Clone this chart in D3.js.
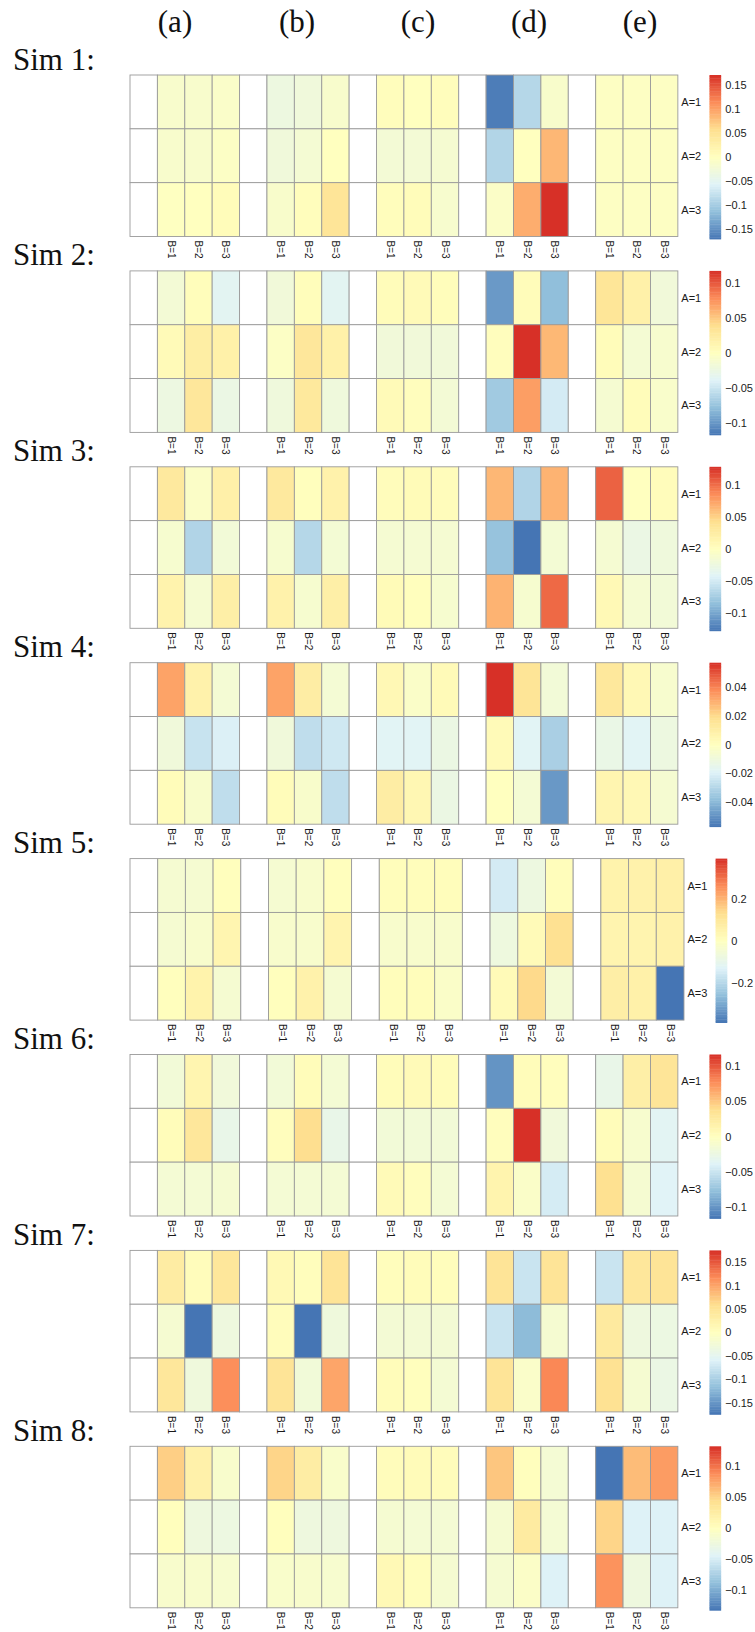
<!DOCTYPE html>
<html>
<head>
<meta charset="utf-8">
<script src="https://cdn.jsdelivr.net/npm/d3@7"></script>
<style>
  body { margin: 0; background: #fff; }
  svg { display: block; }
  .serif { font-family: "Liberation Serif", "DejaVu Serif", serif; }
  .sans { font-family: "Liberation Sans", Arial, Helvetica, sans-serif; }
</style>
</head>
<body>
<svg id="chart" width="755" height="1632"></svg>
<script>
// ---- data -------------------------------------------------------------
const simNames = ["Sim 1:", "Sim 2:", "Sim 3:", "Sim 4:", "Sim 5:", "Sim 6:", "Sim 7:", "Sim 8:"];
const groupLabels = ["(a)", "(b)", "(c)", "(d)", "(e)"];
const rowLabels = ["A=1", "A=2", "A=3"];
const colLabels = ["B=1", "B=2", "B=3"];

// each simulation: 5 groups x 3 rows (A) x 3 columns (B)
const sim1 = [
  [[-0.013, -0.013, -0.010], [-0.013, -0.013, -0.006], [-0.002, 0.000, 0.006]],
  [[-0.033, -0.028, -0.013], [-0.027, -0.020, 0.000], [-0.012, 0.004, 0.047]],
  [[0.004, 0.000, 0.004], [-0.022, -0.022, -0.018], [0.004, 0.006, -0.015]],
  [[-0.165, -0.088, -0.012], [-0.090, 0.000, 0.085], [-0.008, 0.092, 0.171]],
  [[-0.004, -0.004, -0.004], [-0.004, -0.004, -0.004], [-0.004, -0.004, -0.004]]
];
const sim2 = [
  [[-0.015, 0.003, -0.035], [0.006, 0.022, 0.018], [-0.023, 0.030, -0.025]],
  [[-0.018, 0.003, -0.035], [-0.004, 0.030, 0.018], [-0.020, 0.028, -0.020]],
  [[0.004, 0.006, 0.003], [-0.018, -0.018, -0.018], [0.006, 0.002, -0.015]],
  [[-0.098, 0.004, -0.078], [0.002, 0.117, 0.058], [-0.070, 0.070, -0.045]],
  [[0.032, 0.018, -0.018], [0.004, -0.014, -0.010], [-0.012, 0.004, -0.008]]
];
const sim3 = [
  [[0.030, -0.006, 0.020], [-0.012, -0.068, -0.018], [0.016, -0.014, 0.022]],
  [[0.030, 0.002, 0.018], [-0.012, -0.066, -0.016], [0.018, -0.012, 0.022]],
  [[0.004, 0.006, 0.004], [-0.014, -0.014, -0.014], [0.006, 0.002, -0.012]],
  [[0.064, -0.068, 0.066], [-0.082, -0.128, -0.016], [0.066, -0.012, 0.102]],
  [[0.105, 0.000, 0.004], [-0.014, -0.028, -0.022], [0.008, -0.014, -0.018]]
];
const sim4 = [
  [[0.033, 0.008, -0.007], [-0.009, -0.025, -0.020], [0.002, -0.004, -0.027]],
  [[0.033, 0.011, -0.007], [-0.009, -0.027, -0.023], [0.002, -0.004, -0.027]],
  [[0.004, -0.003, 0.003], [-0.018, -0.018, -0.012], [0.011, 0.005, -0.012]],
  [[0.057, 0.016, -0.008], [0.003, -0.018, -0.032], [0.000, -0.007, -0.048]],
  [[0.014, 0.004, -0.005], [-0.013, -0.018, -0.011], [0.006, 0.004, -0.006]]
];
const sim5 = [
  [[-0.040, -0.040, 0.006], [-0.040, -0.030, 0.042], [0.006, 0.052, -0.040]],
  [[-0.040, -0.030, 0.006], [-0.030, -0.030, 0.045], [0.006, 0.055, -0.040]],
  [[0.010, 0.010, 0.010], [-0.030, -0.030, -0.030], [0.010, 0.010, -0.020]],
  [[-0.150, -0.075, 0.010], [-0.070, 0.020, 0.125], [0.020, 0.140, -0.050]],
  [[0.052, 0.055, 0.065], [0.045, 0.045, 0.055], [0.070, 0.060, -0.390]]
];
const sim6 = [
  [[-0.016, 0.012, -0.018], [0.004, 0.030, -0.028], [-0.014, -0.014, -0.012]],
  [[-0.016, 0.004, -0.014], [0.002, 0.039, -0.028], [-0.014, -0.014, -0.014]],
  [[0.004, 0.006, 0.004], [-0.016, -0.016, -0.016], [0.006, 0.002, -0.014]],
  [[-0.100, 0.004, 0.002], [0.002, 0.116, -0.018], [0.014, -0.006, -0.044]],
  [[-0.028, 0.020, 0.032], [0.004, -0.010, -0.035], [0.038, -0.012, -0.038]]
];
const sim7 = [
  [[0.035, 0.005, 0.045], [-0.018, -0.175, -0.032], [0.045, -0.030, 0.115]],
  [[0.012, 0.004, 0.050], [0.005, -0.175, -0.030], [0.050, -0.026, 0.100]],
  [[0.004, 0.006, 0.004], [-0.022, -0.022, -0.022], [0.006, 0.002, -0.020]],
  [[0.050, -0.075, 0.050], [-0.075, -0.119, -0.018], [0.050, -0.010, 0.120]],
  [[-0.075, 0.045, 0.050], [0.040, -0.032, -0.036], [0.055, -0.018, -0.038]]
];
const sim8 = [
  [[0.053, 0.020, -0.010], [0.002, -0.024, -0.026], [-0.010, -0.010, -0.012]],
  [[0.050, 0.025, -0.009], [0.002, -0.024, -0.024], [-0.009, -0.010, -0.012]],
  [[0.004, 0.006, 0.004], [-0.014, -0.016, -0.016], [0.008, 0.003, -0.014]],
  [[0.058, 0.002, -0.016], [-0.014, 0.028, -0.016], [-0.014, -0.006, -0.045]],
  [[-0.132, 0.063, 0.080], [0.050, -0.045, -0.045], [0.085, -0.024, -0.045]]
];
const simValues = [sim1, sim2, sim3, sim4, sim5, sim6, sim7, sim8];

// colour-key tick values for each simulation
const legendTicks = [
  [-0.15, -0.1, -0.05, 0, 0.05, 0.1, 0.15],
  [-0.1, -0.05, 0, 0.05, 0.1],
  [-0.1, -0.05, 0, 0.05, 0.1],
  [-0.04, -0.02, 0, 0.02, 0.04],
  [-0.2, 0, 0.2],
  [-0.1, -0.05, 0, 0.05, 0.1],
  [-0.15, -0.1, -0.05, 0, 0.05, 0.1, 0.15],
  [-0.1, -0.05, 0, 0.05, 0.1]
];

// reversed RdYlBu (7 classes)
const palette = ["#4575B4", "#91BFDB", "#E0F3F8", "#FFFFBF", "#FEE090", "#FC8D59", "#D73027"];

// ---- layout -----------------------------------------------------------
const heatLeft = 130;
const firstTop = 75;
const panelStep = 195.9;
const heatH = 161.5;
const keyGap = 31.6;     // heatmap right edge -> colour key
const keyW = 11.7;
const keyH = 164;
const rightEdge = 753;
const headerX = [175, 297, 418, 529, 640];
const headerY = 32;

const svg = d3.select("#chart");
const fmt = d => (d < 0 ? "\u2212" : "") + String(Math.abs(d));

// column keys: a spacer column then B=1..3 for each group
const colKeys = [];
groupLabels.forEach((g, gi) => {
  colKeys.push(`g${gi}-gap`);
  colLabels.forEach(b => colKeys.push(`g${gi}-${b}`));
});

// group headers
svg.append("g").attr("class", "serif").selectAll("text")
  .data(groupLabels)
  .join("text")
  .attr("x", (d, i) => headerX[i])
  .attr("y", headerY)
  .attr("text-anchor", "middle")
  .attr("font-size", 31)
  .attr("fill", "#111")
  .text(d => d);

simValues.forEach((sim, si) => {
  const top = firstTop + si * panelStep;
  const g = svg.append("g");

  // simulation name
  g.append("text")
    .attr("class", "serif")
    .attr("x", 13)
    .attr("y", top - 5.5)
    .attr("font-size", 31)
    .attr("fill", "#111")
    .text(simNames[si]);

  // colour key labels first, so the heatmap width can follow their width
  const ticks = legendTicks[si];
  const probe = g.append("g").attr("class", "sans").attr("font-size", 11);
  let maxW = 0;
  probe.selectAll("text").data(ticks).join("text").text(fmt)
    .each(function () { maxW = Math.max(maxW, this.getComputedTextLength()); });
  probe.remove();

  const heatRight = rightEdge - maxW - 4 - keyW - keyGap;
  const x = d3.scaleBand().domain(colKeys).range([heatLeft, heatRight]);
  const y = d3.scaleBand().domain(rowLabels).range([top, top + heatH]);

  const flat = sim.flat(2);
  const M = d3.max(flat, v => Math.abs(v));
  const color = d3.scaleLinear()
    .domain(d3.range(7).map(i => -M + (2 * M) * i / 6))
    .range(palette)
    .interpolate(d3.interpolateRgb);

  // cells
  const cells = [];
  groupLabels.forEach((gl, gi) => {
    rowLabels.forEach((a, ri) => {
      cells.push({ col: `g${gi}-gap`, row: a, v: null });
      colLabels.forEach((b, bi) => {
        cells.push({ col: `g${gi}-${b}`, row: a, v: sim[gi][ri][bi] });
      });
    });
  });
  g.append("g").selectAll("rect")
    .data(cells)
    .join("rect")
    .attr("x", d => x(d.col))
    .attr("y", d => y(d.row))
    .attr("width", x.bandwidth())
    .attr("height", y.bandwidth())
    .attr("fill", d => d.v === null ? "#ffffff" : color(d.v))
    .attr("stroke", "#9a9a9a")
    .attr("stroke-width", 0.9);

  // column labels (vertical, reading downward)
  const colTicks = colKeys.filter(k => !k.endsWith("gap"));
  g.append("g").attr("class", "sans").selectAll("text")
    .data(colTicks)
    .join("text")
    .attr("transform", d => `translate(${x(d) + x.bandwidth() / 2},${top + heatH + 4}) rotate(90)`)
    .attr("dominant-baseline", "central")
    .attr("font-size", 10)
    .attr("fill", "#1a1a1a")
    .text(d => d.split("-")[1]);

  // row labels
  g.append("g").attr("class", "sans").selectAll("text")
    .data(rowLabels)
    .join("text")
    .attr("x", heatRight + 3.5)
    .attr("y", d => y(d) + y.bandwidth() / 2)
    .attr("dominant-baseline", "central")
    .attr("font-size", 11)
    .attr("fill", "#1a1a1a")
    .text(d => d);

  // colour key
  const keyX = heatRight + keyGap;
  const ky = d3.scaleLinear().domain([-M, M]).range([top + keyH, top]);
  const steps = d3.range(100).map(i => -M + (2 * M) * (i + 0.5) / 100);
  const stepH = keyH / 100;
  g.append("g").selectAll("rect")
    .data(steps)
    .join("rect")
    .attr("x", keyX)
    .attr("y", d => ky(d) - stepH / 2)
    .attr("width", keyW)
    .attr("height", stepH + 0.4)
    .attr("fill", d => color(d));

  g.append("g").attr("class", "sans").selectAll("text")
    .data(ticks)
    .join("text")
    .attr("x", keyX + keyW + 4)
    .attr("y", d => ky(d))
    .attr("dominant-baseline", "central")
    .attr("font-size", 11)
    .attr("fill", "#1a1a1a")
    .text(fmt);
});
</script>
</body>
</html>
